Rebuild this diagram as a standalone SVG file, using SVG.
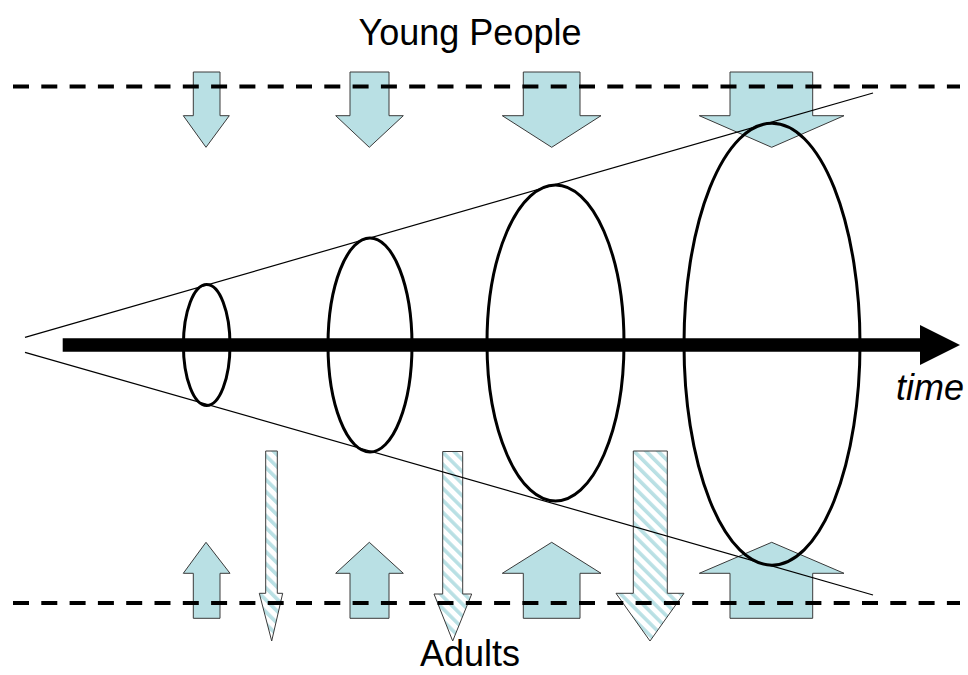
<svg xmlns="http://www.w3.org/2000/svg" width="968" height="675" viewBox="0 0 968 675">
<style>
.blk{fill:#b9e0e4;stroke:#3a3a3a;stroke-width:1}
.hat{fill:url(#hatch);stroke:#3a3a3a;stroke-width:1}
.dash{stroke:#000;stroke-width:4;stroke-dasharray:16 12.3;fill:none}
.cone{stroke:#000;stroke-width:1.2;fill:none}
.ell{stroke:#000;stroke-width:3;fill:none}
.lbl{font-family:"Liberation Sans",Arial,sans-serif;font-size:36px;fill:#000}
</style>
<defs>
<pattern id="hatch" patternUnits="userSpaceOnUse" width="8.5" height="8.5" patternTransform="rotate(-45)">
<rect width="8.5" height="8.5" fill="#fff"/>
<rect width="3.6" height="8.5" fill="#b9e0e4"/>
</pattern>
</defs>
<g id="inflow-top">
<polygon id="down1" class="blk" points="193.3,72 220,72 220,115.7 229.3,115.7 206,147.3 183.3,115.7 193.3,115.7"/>
<polygon id="down2" class="blk" points="350,72 389,72 389,115.7 403.3,115.7 369.3,147.3 335.7,115.7 350,115.7"/>
<polygon id="down3" class="blk" points="523.3,72 580,72 580,115.7 601,115.7 551.7,147.3 502.3,115.7 523.3,115.7"/>
<polygon id="down4" class="blk" points="730,72 812.7,72 812.7,115.7 844,115.7 771.7,147.3 699.3,115.7 730,115.7"/>
</g>
<g id="inflow-bottom">
<polygon id="up1" class="blk" points="193.3,618.3 220,618.3 220,573.3 230,573.3 206,542.3 183.3,573.3 193.3,573.3"/>
<polygon id="up2" class="blk" points="350,618.3 389,618.3 389,573.3 403.3,573.3 369.3,542.3 335.7,573.3 350,573.3"/>
<polygon id="up3" class="blk" points="523.3,618.3 580,618.3 580,573.3 601,573.3 551.7,542.3 502.3,573.3 523.3,573.3"/>
<polygon id="up4" class="blk" points="730,618.3 812.7,618.3 812.7,573.3 844,573.3 771.7,542.3 699.3,573.3 730,573.3"/>
</g>
<g id="outflow">
<polygon id="out1" class="hat" points="265.7,451 277.3,451 277.3,593.3 282.7,593.3 271.7,641 259.3,593.3 265.7,593.3"/>
<polygon id="out2" class="hat" points="442.7,451.5 462.7,451.5 462.7,594 471.7,594 452.7,641 434,594 442.7,594"/>
<polygon id="out3" class="hat" points="633.3,451 667.3,451 667.3,593.3 684,593.3 650,641 616,593.3 633.3,593.3"/>
</g>
<g id="connectors">
<line class="cone" x1="25" y1="337.3" x2="873" y2="93"/>
<line class="cone" x1="25" y1="352.3" x2="873" y2="595"/>
<line x1="62.7" y1="345" x2="922" y2="345" stroke="#000" stroke-width="13.4"/>
<polygon points="920,325 960,345 920,365" fill="#000"/>
<line class="dash" x1="13" y1="86.5" x2="960" y2="86.5"/>
<line class="dash" x1="13" y1="603" x2="960" y2="603"/>
</g>
<g id="stages">
<ellipse id="e1" class="ell" cx="206.7" cy="345" rx="23.3" ry="60.5"/>
<ellipse id="e2" class="ell" cx="370" cy="345" rx="42" ry="107"/>
<ellipse id="e3" class="ell" cx="555.5" cy="343" rx="68.5" ry="158"/>
<ellipse id="e4" class="ell" cx="772" cy="344.2" rx="88" ry="221"/>
</g>
<g id="labels">
<text class="lbl" x="470" y="45" text-anchor="middle">Young People</text>
<text class="lbl" x="470" y="666" text-anchor="middle">Adults</text>
<text class="lbl" x="896" y="400" font-style="italic">time</text>
</g>
</svg>
